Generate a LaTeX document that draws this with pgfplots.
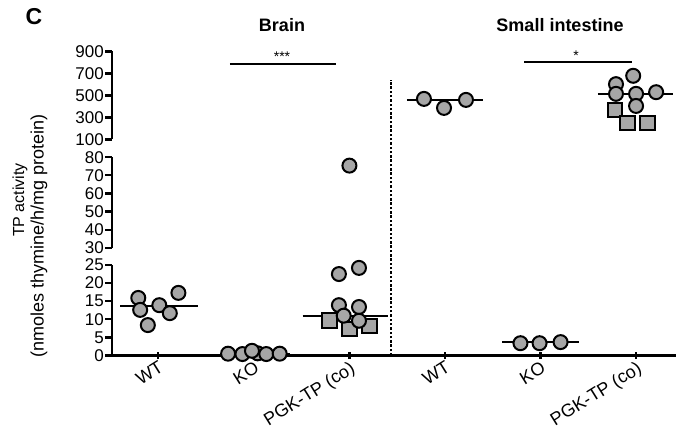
\documentclass[border=0pt]{standalone}
\usepackage{pgfplots}
\pgfplotsset{compat=1.18}
\usepackage{fontspec}
\setmainfont{Liberation Sans}
\definecolor{ptfill}{RGB}{166,166,166}
\begin{document}
\begin{tikzpicture}[x=1pt,y=1pt]
\useasboundingbox (0,0) rectangle (676,441);
\pgfplotsset{
  common/.style={
    scale only axis, clip=false,
    width=568pt,
    xmin=-0.485, xmax=5.46,
    axis y line=left,
    tick align=outside,
    major tick length=7pt,
    yticklabel style={font=\fontsize{17}{17}\selectfont, inner sep=1pt},
    /pgf/number format/assume math mode=true,
    /pgf/number format/1000 sep={},
    anchor=south west,
  },
  lines/.style={
    axis line style={-, line width=2.4pt},
    x axis line style={-, line width=2.4pt},
    y axis line style={-, line width=2.4pt},
    every outer x axis line/.append style={-, line width=2.4pt},
    every outer y axis line/.append style={-, line width=2.4pt},
    every tick/.append style={black, line width=2.2pt},
    tick style={black, line width=2.2pt},
  },
  circ/.style={only marks, mark=*, mark size=7pt, mark options={fill=ptfill, draw=black, line width=2pt}},
  sq/.style={only marks, mark=square*, mark size=7.3pt, mark options={fill=ptfill, draw=black, line width=2pt}},
  med/.style={no marks, black, line width=2pt},
}
% lower segment 0-25
\begin{axis}[common, at={(112pt,85.5pt)}, height=90.5pt, ymin=0, ymax=25, ytick={0,5,...,25},
  axis x line=bottom, xtick={0,...,5}, xticklabels={WT,KO,PGK-TP (co),WT,KO,PGK-TP (co)},
  xticklabel style={font=\fontsize{18}{18}\selectfont, rotate=32, anchor=north east, inner sep=1pt},
  lines]
\addplot[black, line width=2pt, dash pattern=on 2.5pt off 1.8pt] coordinates {(2.44,0) (2.44,76.1)};
% Brain WT
\addplot[circ] coordinates {(-0.21,15.9) (-0.19,12.6) (-0.11,8.4) (0.01,13.9) (0.12,11.7) (0.21,17.3)};
\addplot[med] coordinates {(-0.40,13.7) (0.41,13.7)};
% Brain KO
\addplot[circ] coordinates {(0.73,0.5) (0.88,0.4) (1.04,0.6) (1.13,0.4) (1.27,0.5) (0.98,1.3)};
\addplot[med] coordinates {(0.67,0.4) (1.38,0.4)};
% Brain PGK-TP
\addplot[sq] coordinates {(1.79,9.6) (2.00,7.3) (2.21,8.2)};
\addplot[circ] coordinates {(1.89,22.5) (2.10,24.2) (1.89,13.9) (2.10,13.4) (1.94,11.0) (2.10,9.6)};
\addplot[med] coordinates {(1.51,11.0) (2.40,11.0)};
% SI KO
\addplot[circ] coordinates {(3.79,3.4) (3.99,3.4) (4.21,3.7)};
\addplot[med] coordinates {(3.60,3.7) (4.40,3.7)};
\end{axis}
% middle segment 30-80
\begin{axis}[common, at={(112pt,193.3pt)}, height=90.4pt, ymin=30, ymax=80, ytick={30,40,...,80},
  axis x line=none, lines]
\addplot[circ] coordinates {(2.00,75.4)};
\end{axis}
% upper segment 100-900
\begin{axis}[common, at={(112pt,301.5pt)}, height=88pt, ymin=100, ymax=900, ytick={100,300,...,900},
  axis x line=none, lines]
% SI WT
\addplot[circ] coordinates {(2.78,469) (2.99,387) (3.22,460)};
\addplot[med] coordinates {(2.60,460) (3.40,460)};
% SI PGK-TP
\addplot[sq] coordinates {(4.78,369) (4.91,250) (5.12,250)};
\addplot[circ] coordinates {(4.97,679) (4.79,603) (5.00,515) (5.21,530) (4.79,515) (5.00,405)};
\addplot[med] coordinates {(4.60,515) (5.39,515)};
% significance bars
\addplot[med] coordinates {(0.75,788) (1.86,788)};
\addplot[med] coordinates {(3.83,806) (4.96,806)};
\end{axis}
\node[anchor=base, font=\fontsize{14}{14}\selectfont] at (282,379.5) {***};
\node[anchor=base, font=\fontsize{14}{14}\selectfont] at (576,380) {*};
\node[anchor=base, font=\bfseries\fontsize{18}{18}\selectfont] at (282,409) {Brain};
\node[anchor=base, font=\bfseries\fontsize{18}{18}\selectfont] at (560,409) {Small intestine};
\node[anchor=base west, font=\bfseries\fontsize{23}{23}\selectfont] at (22,416) {C};
\node[rotate=90, font=\fontsize{16}{16}\selectfont] at (20,241) {TP activity};
\node[rotate=90, font=\fontsize{18}{18}\selectfont] at (39,205) {(nmoles thymine/h/mg protein)};
\end{tikzpicture}
\end{document}
